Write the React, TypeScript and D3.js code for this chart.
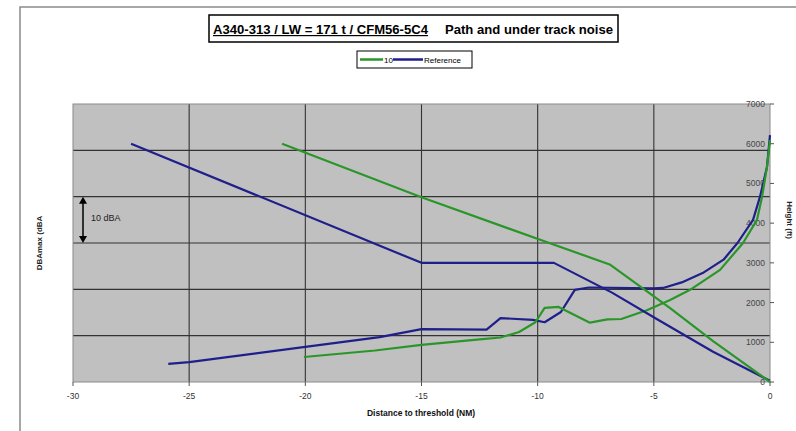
import React from "react";
import * as d3 from "d3";

// ---- data ----
const xTicks = [-30, -25, -20, -15, -10, -5, 0];
const heightTicks = [0, 1000, 2000, 3000, 4000, 5000, 6000, 7000];
const noiseGrid = [60, 70, 80, 90, 100];

// Height profiles (ft) vs distance (NM)
const refHeightDist = [-27.5, -15, -9.3, -6.8, -4.95, -2.45, 0];
const refHeight = [6000, 3000, 3000, 2250, 1610, 760, 30];
const s10HeightDist = [-21, -15, -9.5, -6.9, -4.3, -2.45, 0];
const s10Height = [6000, 4650, 3500, 2960, 1860, 1030, 0];

// Under-track noise (dBA) vs distance (NM)
const refNoiseDist = [-25.9, -25, -20, -16.8, -15, -12.2, -11.6, -10.2, -9.7, -9.0, -8.4, -7.8, -5.0, -4.6, -3.8, -2.9, -2.0, -1.4, -0.73, -0.43, -0.13, 0];
const refNoise = [53.9, 54.3, 57.6, 59.7, 61.4, 61.3, 63.8, 63.4, 62.9, 65.1, 69.9, 70.4, 70.2, 70.3, 71.5, 73.5, 76.4, 80, 85, 90, 96.4, 103.3];
const s10NoiseDist = [-20.06, -17, -15, -12.5, -11.6, -10.8, -10.1, -9.7, -9.1, -7.75, -7.0, -6.4, -5.3, -4.3, -3.44, -2.15, -1.16, -0.56, -0.34, -0.13, 0];
const s10Noise = [55.4, 56.8, 58.0, 59.2, 59.6, 60.8, 62.9, 66.0, 66.2, 62.8, 63.5, 63.6, 65.5, 67.7, 69.9, 74.2, 80, 85, 90, 96.4, 102.2];

const seriesNames = ["10", "Reference"];
const GREEN = "#2a962a";
const BLUE = "#1f1f8c";
const FONT = "Arial, 'Liberation Sans', sans-serif";

export default function App() {
  const L = 73, R = 770, T = 104, B = 382;
  const x = d3.scaleLinear().domain([-30, 0]).range([L, R]);
  const yN = d3.scaleLinear().domain([50, 110]).range([B, T]);
  const yH = d3.scaleLinear().domain([0, 7000]).range([B, T]);

  const mk = (xs: number[], ys: number[], ys2: (v: number) => number) => {
    const pts = xs.map((d, i) => [d, ys[i]] as [number, number]);
    return d3.line<[number, number]>().x(d => x(d[0])).y(d => ys2(d[1]))(pts) || "";
  };

  const refH = mk(refHeightDist, refHeight, yH);
  const s10H = mk(s10HeightDist, s10Height, yH);
  const refN = mk(refNoiseDist, refNoise, yN);
  const s10N = mk(s10NoiseDist, s10Noise, yN);

  const aTop = yN(90), aBot = yN(80);

  return (
    <svg width={796} height={431} style={{ position: "absolute", left: 0, top: 0, fontFamily: FONT }}>
      <rect x={0} y={0} width={796} height={431} fill="#fff" />
      {/* outer chart border */}
      <rect x={20} y={7} width={800} height={440} fill="none" stroke="#8a8a8a" strokeWidth={1.5} />

      {/* title */}
      <rect x={209} y={15} width={409} height={27} fill="#fff" stroke="#000" strokeWidth={1.5} />
      <text x={213} y={34} fontSize={12} fontWeight="bold" textDecoration="underline" fill="#000" textLength={215} lengthAdjust="spacingAndGlyphs">A340-313 / LW = 171 t / CFM56-5C4</text>
      <text x={445} y={34} fontSize={12.5} fontWeight="bold" fill="#000" textLength={168} lengthAdjust="spacingAndGlyphs">Path and under track noise</text>

      {/* legend */}
      <rect x={357} y={51} width={115} height={17} fill="#fff" stroke="#000" strokeWidth={1} />
      <line x1={360} x2={383} y1={59.5} y2={59.5} stroke={GREEN} strokeWidth={2.5} />
      <text x={384} y={62.5} fontSize={8} fill="#000">{seriesNames[0]}</text>
      <line x1={393} x2={423} y1={59.5} y2={59.5} stroke={BLUE} strokeWidth={2.5} />
      <text x={424} y={62.5} fontSize={8} fill="#000">{seriesNames[1]}</text>

      {/* plot area */}
      <rect x={L} y={T} width={R - L} height={B - T} fill="#c0c0c0" />
      {noiseGrid.map(v => (
        <line key={"h" + v} x1={L} x2={R} y1={yN(v)} y2={yN(v)} stroke="#333" strokeWidth={1.1} />
      ))}
      {xTicks.slice(1, -1).map(v => (
        <line key={"v" + v} x1={x(v)} x2={x(v)} y1={T} y2={B} stroke="#333" strokeWidth={1.1} />
      ))}
      <rect x={L} y={T} width={R - L} height={B - T} fill="none" stroke="#8a8a8a" strokeWidth={1} />

      {/* x axis */}
      {xTicks.map(v => (
        <g key={"xt" + v}>
          <line x1={x(v)} x2={x(v)} y1={B} y2={B + 4} stroke="#555" />
          <text x={x(v)} y={399} fontSize={8.5} textAnchor="middle" fill="#333">{v}</text>
        </g>
      ))}
      <text x={421} y={416} fontSize={8.5} fontWeight="bold" textAnchor="middle" fill="#111">Distance to threshold (NM)</text>

      {/* right axis */}
      {heightTicks.map(v => (
        <g key={"yt" + v}>
          <line x1={R} x2={R + 4} y1={yH(v)} y2={yH(v)} stroke="#555" />
          <text x={765} y={yH(v) + 3} fontSize={8.5} textAnchor="end" fill="#444">{v}</text>
        </g>
      ))}
      <text transform="translate(787,220) rotate(90)" fontSize={8} fontWeight="bold" textAnchor="middle" fill="#222">Height (ft)</text>

      {/* left axis title */}
      <text transform="translate(42,243) rotate(-90)" fontSize={8} fontWeight="bold" textAnchor="middle" fill="#222">DBAmax (dBA</text>

      {/* 10 dBA scale arrow */}
      <line x1={83} x2={83} y1={aTop + 4} y2={aBot - 4} stroke="#000" strokeWidth={1.5} />
      <path d={`M79,${aTop + 7} L83,${aTop} L87,${aTop + 7} Z`} fill="#000" />
      <path d={`M79,${aBot - 7} L83,${aBot} L87,${aBot - 7} Z`} fill="#000" />
      <text x={91} y={221} fontSize={9} fill="#222">10 dBA</text>

      {/* series */}
      <path d={refN} fill="none" stroke={BLUE} strokeWidth={2.2} strokeLinejoin="round" />
      <path d={s10N} fill="none" stroke={GREEN} strokeWidth={2.2} strokeLinejoin="round" />
      <path d={refH} fill="none" stroke={BLUE} strokeWidth={2.2} strokeLinejoin="round" />
      <path d={s10H} fill="none" stroke={GREEN} strokeWidth={2.2} strokeLinejoin="round" />
    </svg>
  );
}
